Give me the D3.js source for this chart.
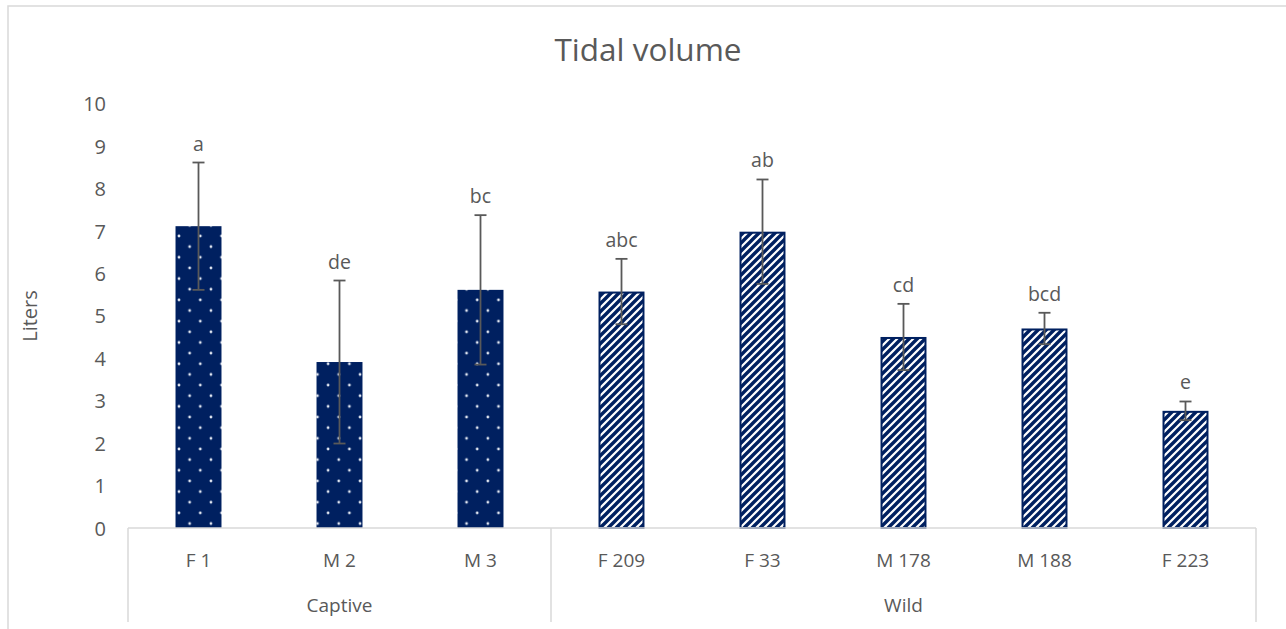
<!DOCTYPE html>
<html>
<head>
<meta charset="utf-8">
<script src="https://cdn.jsdelivr.net/npm/d3@7"></script>
<style>
  html, body { margin: 0; padding: 0; background: #fff; }
  svg { display: block; }
  text { font-family: "Open Sans", "Liberation Sans", sans-serif; fill: #595959; }
</style>
</head>
<body>
<svg id="chart" width="1286" height="629"></svg>
<script>
// ---- data ----
const categories = ["F 1", "M 2", "M 3", "F 209", "F 33", "M 178", "M 188", "F 223"];
const groups = ["Captive", "Captive", "Captive", "Wild", "Wild", "Wild", "Wild", "Wild"];
const groupNames = ["Captive", "Wild"];
const values = [7.11, 3.91, 5.61, 5.57, 6.98, 4.50, 4.70, 2.76];
const errors = [1.50, 1.92, 1.76, 0.77, 1.23, 0.78, 0.37, 0.22];
const letters = ["a", "de", "bc", "abc", "ab", "cd", "bcd", "e"];
const yTicks = [0, 1, 2, 3, 4, 5, 6, 7, 8, 9, 10];
const titleText = "Tidal volume";
const yTitle = "Liters";

// ---- layout ----
const svg = d3.select("#chart");
const navy = "#002060";
const axisGrey = "#d9d9d9";
const textGrey = "#595959";

const x = d3.scaleBand().domain(categories).range([128, 1256]).paddingInner(0.674).paddingOuter(0.337);
const y = d3.scaleLinear().domain([0, 10]).range([528, 103.5]);

// outer chart border
svg.append("rect").attr("x", 8).attr("y", 6).attr("width", 1290).attr("height", 640)
  .attr("fill", "none").attr("stroke", axisGrey).attr("stroke-width", 1.5);

// patterns
const defs = svg.append("defs");
const dots = defs.append("pattern").attr("id", "dots").attr("patternUnits", "userSpaceOnUse")
  .attr("x", 179).attr("y", 236).attr("width", 21.3).attr("height", 21.3);
dots.append("rect").attr("width", 21.3).attr("height", 21.3).attr("fill", navy);
[[0, 0], [21.3, 0], [0, 21.3], [21.3, 21.3], [10.65, 10.65]].forEach(([cx, cy]) => {
  dots.append("circle").attr("cx", cx).attr("cy", cy).attr("r", 1.4).attr("fill", "#e3e8f2");
});

const stripes = defs.append("pattern").attr("id", "stripes").attr("patternUnits", "userSpaceOnUse")
  .attr("width", 8).attr("height", 8);
stripes.append("rect").attr("width", 8).attr("height", 8).attr("fill", "#ffffff");
stripes.append("path").attr("d", "M-2,2 L2,-2 M0,8 L8,0 M6,10 L10,6")
  .attr("stroke", navy).attr("stroke-width", 3.4);

// title
svg.append("text").attr("x", 648).attr("y", 61).attr("text-anchor", "middle")
  .attr("font-size", 31.5).text(titleText);

// y axis (labels only)
const yAxis = d3.axisLeft(y).tickValues(yTicks).tickSize(0).tickPadding(0).tickFormat(d3.format("d"));
const yg = svg.append("g").attr("transform", "translate(106,0)").call(yAxis);
yg.select(".domain").remove();
yg.selectAll("text").attr("font-size", 20).attr("fill", textGrey)
  .style("font-family", '"Open Sans", sans-serif').attr("dy", "0.36em");

// y title
svg.append("text").attr("transform", "translate(37,316) rotate(-90)").attr("text-anchor", "middle")
  .attr("font-size", 20).text(yTitle);

// bars
svg.append("g").selectAll("rect").data(categories).join("rect")
  .attr("x", (d, i) => groups[i] === "Wild" ? x(d) + 1 : x(d))
  .attr("y", (d, i) => groups[i] === "Wild" ? y(values[i]) + 1 : y(values[i]))
  .attr("width", (d, i) => groups[i] === "Wild" ? x.bandwidth() - 2 : x.bandwidth())
  .attr("height", (d, i) => groups[i] === "Wild" ? y(0) - y(values[i]) - 1 : y(0) - y(values[i]))
  .attr("fill", (d, i) => groups[i] === "Wild" ? "url(#stripes)" : "url(#dots)")
  .attr("stroke", (d, i) => groups[i] === "Wild" ? navy : "none")
  .attr("stroke-width", 2);

// category axis
const base = y(0);
const axisG = svg.append("g");
axisG.append("line").attr("x1", x.range()[0]).attr("x2", x.range()[1])
  .attr("y1", base).attr("y2", base).attr("stroke", axisGrey).attr("stroke-width", 1.5);
// group boundaries
const step = x.step();
const sepX = [x.range()[0]];
groupNames.forEach(g => {
  const last = groups.lastIndexOf(g);
  sepX.push(x(categories[last]) + x.bandwidth() / 2 + step / 2);
});
sepX.forEach(sx => {
  axisG.append("line").attr("x1", sx).attr("x2", sx).attr("y1", base).attr("y2", 622)
    .attr("stroke", axisGrey).attr("stroke-width", 1.5);
});
// category labels
axisG.selectAll("text.cat").data(categories).join("text").attr("class", "cat")
  .attr("x", d => x(d) + x.bandwidth() / 2).attr("y", 567).attr("text-anchor", "middle")
  .attr("font-size", 19).text(d => d);
// group labels
groupNames.forEach(g => {
  const first = groups.indexOf(g), last = groups.lastIndexOf(g);
  const cx = (x(categories[first]) + x(categories[last]) + x.bandwidth()) / 2;
  axisG.append("text").attr("x", cx).attr("y", 612).attr("text-anchor", "middle")
    .attr("font-size", 19).text(g);
});

// error bars
const eg = svg.append("g").attr("stroke", textGrey).attr("stroke-width", 1.8);
categories.forEach((c, i) => {
  const cx = x(c) + x.bandwidth() / 2;
  const top = y(values[i] + errors[i]), bot = y(values[i] - errors[i]);
  eg.append("line").attr("x1", cx).attr("x2", cx).attr("y1", top).attr("y2", bot);
  eg.append("line").attr("x1", cx - 6).attr("x2", cx + 6).attr("y1", top).attr("y2", top);
  eg.append("line").attr("x1", cx - 6).attr("x2", cx + 6).attr("y1", bot).attr("y2", bot);
});

// significance letters
svg.append("g").selectAll("text").data(categories).join("text")
  .attr("x", d => x(d) + x.bandwidth() / 2)
  .attr("y", (d, i) => y(values[i] + errors[i]) - 12)
  .attr("text-anchor", "middle").attr("font-size", 19.5)
  .text((d, i) => letters[i]);
</script>
</body>
</html>
